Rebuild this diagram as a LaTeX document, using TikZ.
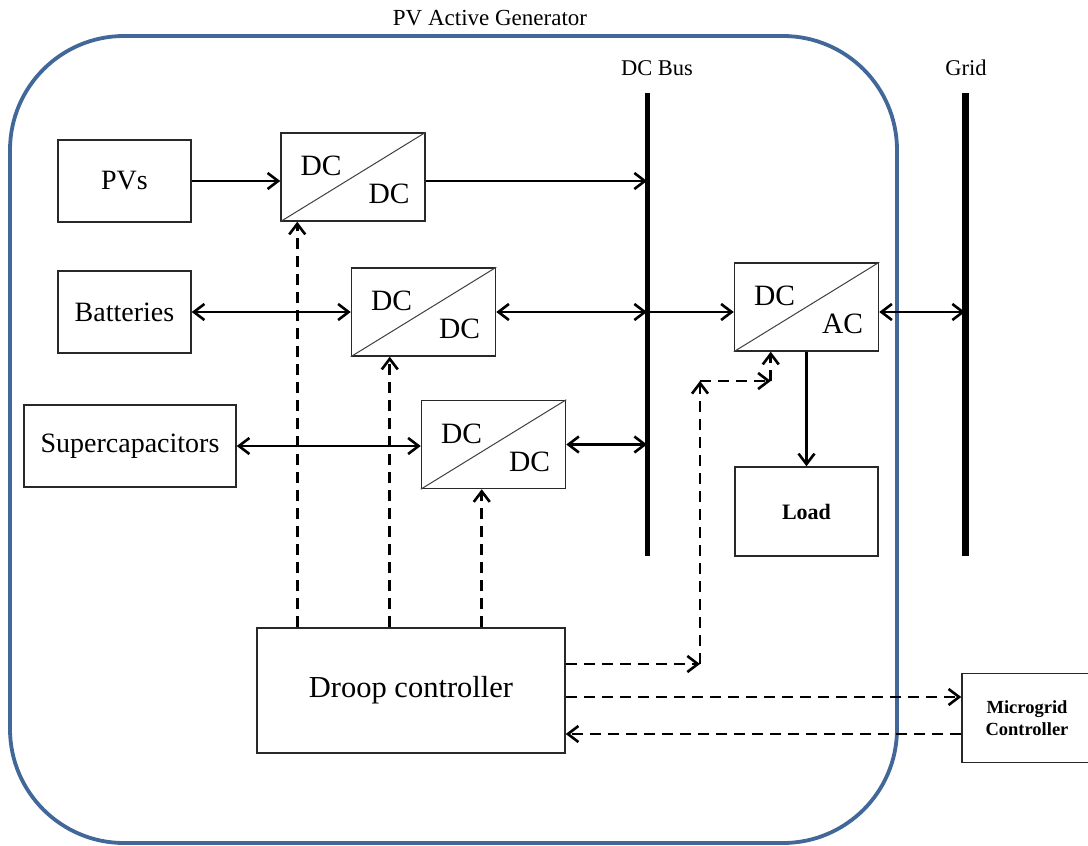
\documentclass[tikz,border=0pt]{standalone}
\usepackage{fontspec}
\setmainfont{Liberation Serif}
\usetikzlibrary{arrows.meta,calc}
\definecolor{framecol}{RGB}{66,104,154}
\definecolor{edgecol}{RGB}{40,40,40}

\begin{document}
\begin{tikzpicture}[x=1pt,y=-1pt,
  >={Straight Barb[length=10.5pt,width=16pt]},
  box/.style={draw=edgecol, line width=1.5pt, fill=white, inner sep=0pt,
              font=\fontsize{28}{33}\selectfont},
  conv/.style={draw=edgecol, line width=1.5pt, fill=white, inner sep=0pt,
               minimum width=144pt, minimum height=88pt},
  convtxt/.style={font=\fontsize{29.5}{33}\selectfont, inner sep=0pt},
  diag/.style={draw=black!75, line width=1pt},
  flow/.style={line width=2.6pt},
  ctrl/.style={line width=2.6pt, dash pattern=on 11pt off 7pt},
  busbar/.style={line width=5pt},
  gridbar/.style={line width=7pt},
  caption/.style={font=\fontsize{22.5}{26}\selectfont, inner sep=0pt}
]
\useasboundingbox (0,0) rectangle (1088,846);

% enclosing frame of the active generator
\draw[draw=framecol, line width=3.8pt, rounded corners=114pt] (10,36) rectangle (897,843);
\node[caption, font=\fontsize{23}{26}\selectfont] (title) at (490,18) {PV Active Generator};

% busbars
\coordinate (busT) at (647,93);
\coordinate (busB) at (647,556);
\coordinate (gridT) at (965,93);
\coordinate (gridB) at (965,556);
\draw[busbar] (busT) -- (busB);
\draw[gridbar] (gridT) -- (gridB);
\node[caption] (buslbl) at (657,68) {DC Bus};
\node[caption] (gridlbl) at (966,68) {Grid};

% sources and storage
\node[box, minimum width=133pt, minimum height=82pt] (pv)  at (124.5,181) {PVs};
\node[box, minimum width=133pt, minimum height=82pt] (bat) at (124.5,312) {Batteries};
\node[box, minimum width=212pt, minimum height=82pt] (sc)  at (130,446)   {Supercapacitors};

% converters
\node[conv] (c1)   at (353,177)   {};
\node[conv] (c2)   at (423.5,312) {};
\node[conv] (c3)   at (493.5,444.5) {};
\node[conv] (dcac) at (806.5,307) {};
\foreach \c in {c1,c2,c3,dcac}
  \draw[diag] (\c.south west) -- (\c.north east);
\foreach \c in {c1,c2,c3}{
  \node[convtxt] at ([shift={(-32,-11)}]\c.center) {DC};
  \node[convtxt] at ([shift={(36,17)}]\c.center) {DC};
}
\node[convtxt] at ([shift={(-32,-11)}]dcac.center) {DC};
\node[convtxt] at ([shift={(36,17)}]dcac.center) {AC};

% load and controllers
\node[box, minimum width=143pt, minimum height=89pt, font=\fontsize{22}{26}\selectfont\bfseries]
  (load) at (806.5,511.5) {Load};
\node[box, minimum width=308pt, minimum height=125pt, font=\fontsize{30.5}{35}\selectfont]
  (droop) at (411,690.5) {Droop controller};
\node[box, minimum width=130pt, minimum height=89pt, align=center,
      font=\fontsize{18.5}{21.5}\selectfont\bfseries]
  (mg) at (1027,718) {Microgrid\\Controller};

% power flow
\draw[flow,->]  (pv.east) -- (pv.east -| c1.west);
\draw[flow,->]  (pv.east -| c1.east) -- (pv.east -| busT);
\draw[flow,<->] (bat.east) -- (bat.east -| c2.west);
\draw[flow,<->] (c2.east) -- (c2.east -| busT);
\draw[flow,->]  (c2.east -| busT) -- (c2.east -| dcac.west);
\draw[flow,<->] (c2.east -| dcac.east) -- (c2.east -| gridT);
\draw[flow,<->] (sc.east) -- (sc.east -| c3.west);
\draw[flow,<->] (c3.east) -- (c3.east -| busT);
\draw[flow,->]  (dcac.south) -- (load.north);

% control signals
\coordinate (k1) at ([xshift=17pt]c1.south west);
\coordinate (k2) at ([xshift=39pt]c2.south west);
\coordinate (k3) at ([xshift=61pt]c3.south west);
\coordinate (k4) at ([xshift=37pt]dcac.south west);
\draw[ctrl,->] (k1 |- droop.north) -- (k1);
\draw[ctrl,->] (k2 |- droop.north) -- (k2);
\draw[ctrl,->] (k3 |- droop.north) -- (k3);

\coordinate (r1) at ([yshift=26.5pt]droop.east);
\coordinate (bend1) at (700,664);
\coordinate (bend2) at (700,381);
\draw[ctrl,->] (r1) -- (bend1);
\draw[ctrl,->] (bend1) -- (bend2);
\draw[ctrl,->] (bend2) -- (k4 |- bend2);
\draw[ctrl,->] (k4 |- bend2) -- (k4);

\coordinate (s1) at ([yshift=-6.5pt]droop.east);
\coordinate (s2) at ([yshift=-43.5pt]droop.east);
\draw[ctrl,->] (s1) -- (s1 -| mg.west);
\draw[ctrl,->] (s2 -| mg.west) -- (s2);
\end{tikzpicture}
\end{document}
